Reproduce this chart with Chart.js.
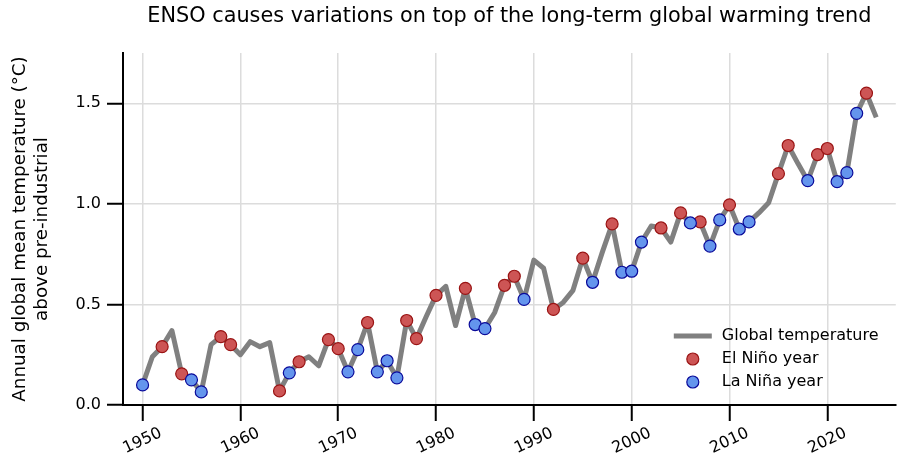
<!DOCTYPE html>
<html>
<head>
<meta charset="utf-8">
<title>ENSO and the global warming trend</title>
<style>
  body { margin: 0; background: white; }
  .chart-box { width: 903px; height: 466px; }
</style>
<script src="https://cdn.jsdelivr.net/npm/chart.js@4.4.1/dist/chart.umd.min.js"></script>
</head>
<body>
<div class="chart-box"><canvas id="ensoChart"></canvas></div>
<script>
const years = [1950, 1951, 1952, 1953, 1954, 1955, 1956, 1957, 1958, 1959,
  1960, 1961, 1962, 1963, 1964, 1965, 1966, 1967, 1968, 1969,
  1970, 1971, 1972, 1973, 1974, 1975, 1976, 1977, 1978, 1979,
  1980, 1981, 1982, 1983, 1984, 1985, 1986, 1987, 1988, 1989,
  1990, 1991, 1992, 1993, 1994, 1995, 1996, 1997, 1998, 1999,
  2000, 2001, 2002, 2003, 2004, 2005, 2006, 2007, 2008, 2009,
  2010, 2011, 2012, 2013, 2014, 2015, 2016, 2017, 2018, 2019,
  2020, 2021, 2022, 2023, 2024, 2025];
const temps = [0.10, 0.24, 0.29, 0.37, 0.155, 0.125, 0.065, 0.30, 0.34, 0.30,
  0.25, 0.315, 0.29, 0.31, 0.07, 0.16, 0.215, 0.24, 0.195, 0.325,
  0.28, 0.165, 0.275, 0.41, 0.165, 0.22, 0.135, 0.42, 0.33, 0.44,
  0.545, 0.59, 0.395, 0.58, 0.40, 0.38, 0.46, 0.595, 0.64, 0.525,
  0.72, 0.68, 0.475, 0.51, 0.57, 0.73, 0.61, 0.76, 0.90, 0.66,
  0.665, 0.81, 0.89, 0.88, 0.81, 0.955, 0.905, 0.91, 0.79, 0.92,
  0.995, 0.875, 0.91, 0.955, 1.005, 1.15, 1.29, 1.20, 1.115, 1.245,
  1.275, 1.11, 1.155, 1.45, 1.55, 1.43];
const elNinoYears = [1952, 1954, 1958, 1959, 1964, 1966, 1969, 1970, 1973, 1977,
  1978, 1980, 1983, 1987, 1988, 1992, 1995, 1998, 2003, 2005,
  2007, 2010, 2015, 2016, 2019, 2020, 2024];
const laNinaYears = [1950, 1955, 1956, 1965, 1971, 1972, 1974, 1975, 1976, 1984,
  1985, 1989, 1996, 1999, 2000, 2001, 2006, 2008, 2009, 2011,
  2012, 2018, 2021, 2022, 2023];
const xTicks = [1950, 1960, 1970, 1980, 1990, 2000, 2010, 2020];
const yTicks = [0, 0.5, 1.0, 1.5];

Chart.defaults.font.family = '"DejaVu Sans", sans-serif';
Chart.defaults.color = '#000';

const pick = list => list.map(yr => ({ x: yr, y: temps[years.indexOf(yr)] }));

// rotated year labels and the legend in the lower right corner
const extras = {
  id: 'extras',
  afterDraw(chart) {
    const { ctx, chartArea, scales: { x } } = chart;
    ctx.save();
    ctx.font = '16px "DejaVu Sans"';
    ctx.fillStyle = '#000';
    ctx.textAlign = 'center';
    ctx.textBaseline = 'middle';
    xTicks.forEach(t => {
      ctx.save();
      ctx.translate(x.getPixelForValue(t), x.top + 36);
      ctx.rotate(-25 * Math.PI / 180);
      ctx.fillText(String(t), 0, 0);
      ctx.restore();
    });

    const ds = chart.data.datasets;
    const lx = chartArea.right - 222;
    const tx = chartArea.right - 174;
    const rows = [chartArea.bottom - 69, chartArea.bottom - 46, chartArea.bottom - 23];
    ctx.textAlign = 'left';
    ctx.strokeStyle = ds[0].borderColor;
    ctx.lineWidth = ds[0].borderWidth;
    ctx.beginPath();
    ctx.moveTo(lx, rows[0]);
    ctx.lineTo(lx + 38, rows[0]);
    ctx.stroke();
    ctx.fillText(ds[0].label, tx, rows[0]);
    [1, 2].forEach(i => {
      ctx.beginPath();
      ctx.arc(lx + 19, rows[i], 6, 0, Math.PI * 2);
      ctx.fillStyle = ds[i].backgroundColor;
      ctx.fill();
      ctx.lineWidth = 1.2;
      ctx.strokeStyle = ds[i].borderColor;
      ctx.stroke();
      ctx.fillStyle = '#000';
      ctx.fillText(ds[i].label, tx, rows[i]);
    });
    ctx.restore();
  }
};

new Chart(document.getElementById('ensoChart'), {
  type: 'line',
  data: {
    datasets: [{
      label: 'Global temperature',
      data: years.map((yr, i) => ({ x: yr, y: temps[i] })),
      borderColor: '#808080',
      borderWidth: 5,
      borderJoinStyle: 'round',
      pointRadius: 0,
      tension: 0,
      order: 3
    }, {
      label: 'El Niño year',
      data: pick(elNinoYears),
      showLine: false,
      pointRadius: 6,
      pointBorderWidth: 1.2,
      backgroundColor: '#cd5555',
      borderColor: '#9a1414',
      order: 2
    }, {
      label: 'La Niña year',
      data: pick(laNinaYears),
      showLine: false,
      pointRadius: 6,
      pointBorderWidth: 1.2,
      backgroundColor: '#6495ed',
      borderColor: '#0a0a9a',
      order: 1
    }]
  },
  options: {
    responsive: true,
    maintainAspectRatio: false,
    devicePixelRatio: 1,
    animation: false,
    events: [],
    layout: { padding: { left: 0, right: 7, top: 0, bottom: 0 } },
    plugins: {
      legend: { display: false },
      tooltip: { enabled: false },
      title: {
        display: true,
        fullSize: false,
        text: 'ENSO causes variations on top of the long-term global warming trend',
        font: { size: 20.8, weight: 'normal' },
        color: '#000',
        padding: { top: 4, bottom: 24 }
      }
    },
    scales: {
      x: {
        type: 'linear',
        min: 1948,
        max: 2027,
        afterBuildTicks: s => { s.ticks = xTicks.map(v => ({ value: v })); },
        afterFit: s => { s.height = 61; },
        ticks: { display: false },
        grid: {
          color: '#dcdcdc',
          lineWidth: 1.5,
          tickColor: '#000',
          tickWidth: 2,
          tickLength: 16
        },
        border: { display: true, color: '#000', width: 2 }
      },
      y: {
        min: 0,
        max: 1.75,
        afterBuildTicks: s => { s.ticks = yTicks.map(v => ({ value: v })); },
        afterFit: s => { s.width = 123; },
        ticks: {
          font: { size: 16 },
          color: '#000',
          padding: 6,
          callback: v => v.toFixed(1)
        },
        grid: {
          color: '#dcdcdc',
          lineWidth: 1.5,
          tickColor: '#000',
          tickWidth: 2,
          tickLength: 16
        },
        border: { display: true, color: '#000', width: 2 },
        title: {
          display: true,
          text: ['Annual global mean temperature (°C)', 'above pre-industrial'],
          font: { size: 18.3, lineHeight: 1.2 },
          color: '#000',
          padding: { top: 9, bottom: 0 }
        }
      }
    }
  },
  plugins: [extras]
});
</script>
</body>
</html>
